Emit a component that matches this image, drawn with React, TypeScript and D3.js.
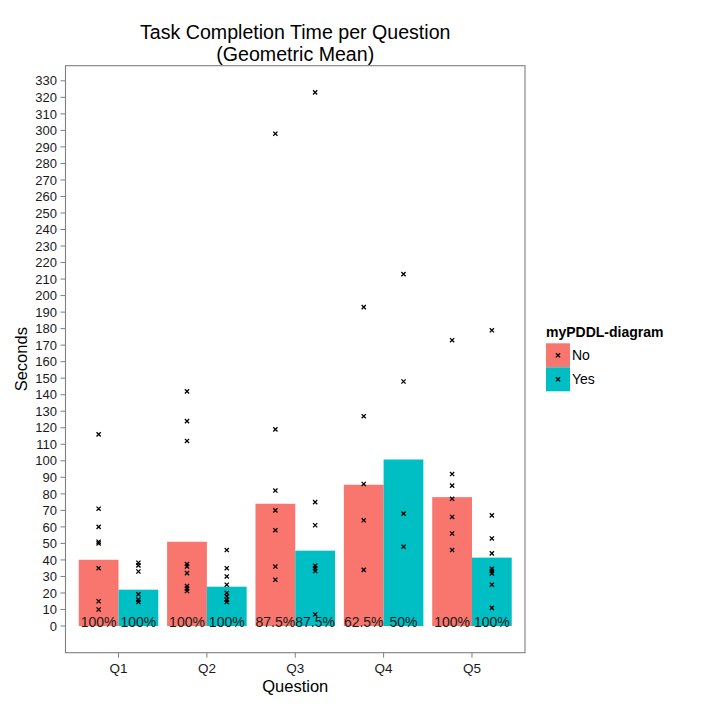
import React from "react";
import * as d3 from "d3";

// categories and series
const questions = ["Q1", "Q2", "Q3", "Q4", "Q5"];
const groups = ["No", "Yes"];

// geometric mean per question (seconds)
const meanNo = [40.1, 51.0, 74.0, 85.5, 78.0];
const meanYes = [22.0, 23.8, 45.6, 100.8, 41.4];

// completion rate labels
const pctNo = ["100%", "100%", "87.5%", "62.5%", "100%"];
const pctYes = ["100%", "100%", "87.5%", "50%", "100%"];

// individual completion times
const timesNo = [
  [116, 71, 60, 51, 50, 35, 15, 10],
  [142, 124, 112, 37.5, 36, 32, 24.2, 22.6, 21.2],
  [298, 119, 82, 70, 58, 36, 28],
  [193, 127, 86, 64, 34],
  [173, 92, 85, 77, 66, 56, 46],
];
const timesYes = [
  [38.3, 36.7, 33, 19.2, 16, 14.5],
  [46, 35, 30, 25, 20, 18, 16, 14.5],
  [323, 75, 61, 36.5, 35, 33.3, 7],
  [213, 148, 68, 48],
  [179, 67, 53, 44, 34.7, 33.3, 31.9, 25, 11],
];

const yTicks = d3.range(0, 331, 10);

const colors: Record<string, string> = { No: "#F8766D", Yes: "#00BFC4" };
const font = "Liberation Sans, Arial, Helvetica, sans-serif";

const W = 706;
const H = 706;
const panel = { left: 65.5, right: 525, top: 65.7, bottom: 652.7 };

function Cross({ x, y }: { x: number; y: number }) {
  const s = 2.1;
  return (
    <path
      d={`M${x - s},${y - s}L${x + s},${y + s}M${x - s},${y + s}L${x + s},${y - s}`}
      stroke="#000"
      strokeWidth={1.3}
      fill="none"
    />
  );
}

export default function App() {
  const x = d3
    .scaleBand<string>()
    .domain(questions)
    .range([panel.left, panel.right])
    .paddingInner(0.1)
    .paddingOuter(0.15);
  const xSub = d3.scaleBand<string>().domain(groups).range([0, x.bandwidth()]);
  const y = d3.scaleLinear().domain([-16.15, 339.15]).range([panel.bottom, panel.top]);

  const means: Record<string, number[]> = { No: meanNo, Yes: meanYes };
  const pcts: Record<string, string[]> = { No: pctNo, Yes: pctYes };
  const times: Record<string, number[][]> = { No: timesNo, Yes: timesYes };

  const legendX = 546;
  const legendY = 343.3;
  const key = 24;

  return (
    <svg width={W} height={H} style={{ position: "absolute", left: 0, top: 0, background: "#fff" }} fontFamily={font}>
      <rect x={0} y={0} width={W} height={H} fill="#fff" />

      {/* title */}
      <text x={(panel.left + panel.right) / 2} y={39} textAnchor="middle" fontSize={19.6} fill="#000">
        Task Completion Time per Question
      </text>
      <text x={(panel.left + panel.right) / 2} y={61} textAnchor="middle" fontSize={19.6} fill="#000">
        (Geometric Mean)
      </text>

      {/* bars */}
      {questions.map((q, i) =>
        groups.map((g) => {
          const bx = (x(q) as number) + (xSub(g) as number);
          return (
            <rect
              key={q + g}
              x={bx}
              y={y(means[g][i])}
              width={xSub.bandwidth()}
              height={y(0) - y(means[g][i])}
              fill={colors[g]}
            />
          );
        })
      )}

      {/* points */}
      {questions.map((q, i) =>
        groups.map((g) => {
          const cx = (x(q) as number) + (xSub(g) as number) + xSub.bandwidth() / 2;
          return times[g][i].map((t, j) => <Cross key={q + g + j} x={cx} y={y(t)} />);
        })
      )}

      {/* percent labels */}
      {questions.map((q, i) =>
        groups.map((g) => {
          const cx = (x(q) as number) + (xSub(g) as number) + xSub.bandwidth() / 2;
          return (
            <text key={"p" + q + g} x={cx} y={y(0) + 0.5} textAnchor="middle" fontSize={14} fill="#1a1a1a">
              {pcts[g][i]}
            </text>
          );
        })
      )}

      {/* panel border */}
      <rect
        x={panel.left}
        y={panel.top}
        width={panel.right - panel.left}
        height={panel.bottom - panel.top}
        fill="none"
        stroke="#7f7f7f"
        strokeWidth={1.1}
      />

      {/* y axis */}
      {yTicks.map((t) => (
        <g key={t}>
          <line x1={panel.left - 5} x2={panel.left} y1={y(t)} y2={y(t)} stroke="#7f7f7f" strokeWidth={1} />
          <text x={panel.left - 8.5} y={y(t)} dy="0.36em" textAnchor="end" fontSize={13} fill="#1a1a1a">
            {t}
          </text>
        </g>
      ))}

      {/* x axis */}
      {questions.map((q) => {
        const cx = (x(q) as number) + x.bandwidth() / 2;
        return (
          <g key={q}>
            <line x1={cx} x2={cx} y1={panel.bottom} y2={panel.bottom + 5} stroke="#7f7f7f" strokeWidth={1} />
            <text x={cx} y={673} textAnchor="middle" fontSize={13.5} fill="#1a1a1a">
              {q}
            </text>
          </g>
        );
      })}

      {/* axis titles */}
      <text x={(panel.left + panel.right) / 2} y={691.5} textAnchor="middle" fontSize={16.5} fill="#000">
        Question
      </text>
      <text
        transform={`translate(27,${(panel.top + panel.bottom) / 2}) rotate(-90)`}
        textAnchor="middle"
        fontSize={16.5}
        fill="#000"
      >
        Seconds
      </text>

      {/* legend */}
      <text x={legendX} y={337} fontSize={14} fontWeight="bold" fill="#000">
        myPDDL-diagram
      </text>
      {groups.map((g, i) => (
        <g key={"lg" + g}>
          <rect x={legendX} y={legendY + i * key} width={key} height={key} fill={colors[g]} />
          <Cross x={legendX + key / 2} y={legendY + i * key + key / 2} />
          <text x={legendX + key + 2} y={legendY + i * key + key / 2} dy="0.36em" fontSize={14} fill="#000">
            {g}
          </text>
        </g>
      ))}
    </svg>
  );
}
